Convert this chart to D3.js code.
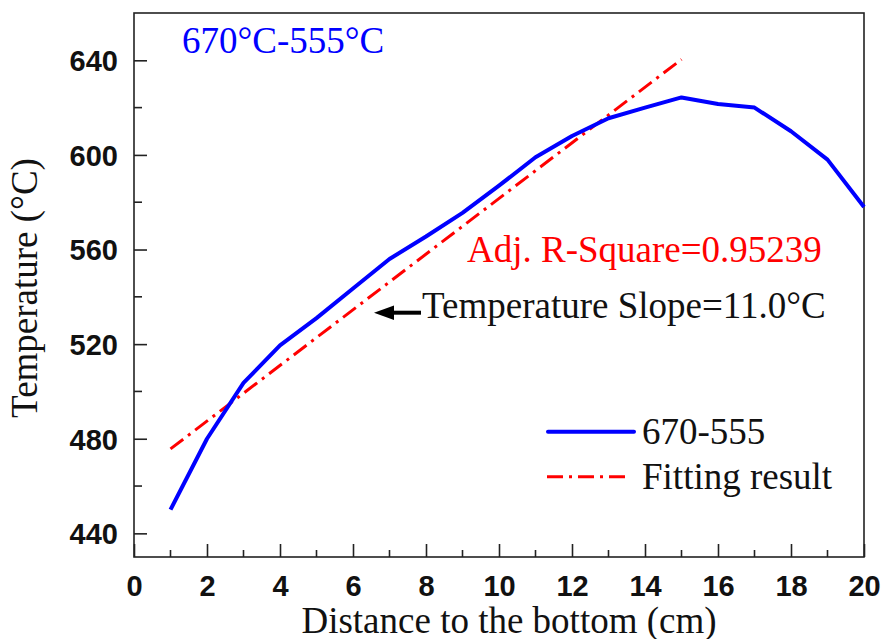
<!DOCTYPE html>
<html>
<head>
<meta charset="utf-8">
<script src="https://cdn.jsdelivr.net/npm/d3@7"></script>
<style>
  html, body { margin: 0; padding: 0; background: #fff; }
  svg { display: block; }
</style>
</head>
<body>
<svg id="chart" width="882" height="639"></svg>
<script>
// ---- data ----
const distance = [1, 2, 3, 4, 5, 6, 7, 8, 9, 10, 11, 12, 13, 14, 15, 16, 17, 18, 19, 20];
const temperature = [450, 480, 503.6, 519.5, 531, 543.5, 556, 565.5, 575.5, 587, 599, 608, 615.5, 620, 624.3, 621.5, 620, 610, 598, 578];
const fitDistance = [1, 15];
const fitTemperature = [475.7, 640.4];
const xMajorTicks = [0, 2, 4, 6, 8, 10, 12, 14, 16, 18, 20];
const yMajorTicks = [440, 480, 520, 560, 600, 640];
const seriesNames = ["670-555", "Fitting result"];

// ---- layout ----
const W = 882, H = 639;
const m = { left: 134, right: 18, top: 13, bottom: 82 };
const svg = d3.select("#chart");
const x = d3.scaleLinear().domain([0, 20]).range([m.left, W - m.right]);
const y = d3.scaleLinear().domain([430, 660]).range([H - m.bottom, m.top]);

const serif = "'Liberation Serif', 'Times New Roman', serif";
const sans = "'Liberation Sans', Arial, sans-serif";
const serifSize = "37px";
const tickSize = "29px";

// frame
svg.append("rect")
  .attr("x", x(0)).attr("y", y(660))
  .attr("width", x(20) - x(0)).attr("height", y(430) - y(660))
  .attr("fill", "none").attr("stroke", "#222").attr("stroke-width", 1.6);

// x axis
const xMinor = d3.range(1, 20, 2);
const gx = svg.append("g").attr("transform", `translate(0,${y(430)})`);
gx.call(d3.axisBottom(x).tickValues(xMajorTicks).tickSize(-13).tickPadding(0).tickFormat(d3.format("d")));
gx.select(".domain").remove();
gx.selectAll(".tick line").attr("stroke", "#222").attr("stroke-width", 1.6);
gx.selectAll(".tick text")
  .attr("y", 38.5).attr("dy", 0).attr("fill", "#111")
  .style("font-family", sans).style("font-weight", "bold").style("font-size", tickSize);
gx.selectAll(".minor").data(xMinor).enter().append("line")
  .attr("x1", d => x(d)).attr("x2", d => x(d))
  .attr("y1", 0).attr("y2", -7)
  .attr("stroke", "#222").attr("stroke-width", 1.6);

// y axis
const yMinor = d3.range(460, 660, 40);
const gy = svg.append("g").attr("transform", `translate(${x(0)},0)`);
gy.call(d3.axisLeft(y).tickValues(yMajorTicks).tickSize(-13).tickPadding(0).tickFormat(d3.format("d")));
gy.select(".domain").remove();
gy.selectAll(".tick line").attr("stroke", "#222").attr("stroke-width", 1.6);
gy.selectAll(".tick text")
  .attr("x", -16).attr("dy", "0.36em").attr("fill", "#111")
  .style("font-family", sans).style("font-weight", "bold").style("font-size", tickSize);
gy.selectAll(".minor").data(yMinor).enter().append("line")
  .attr("y1", d => y(d)).attr("y2", d => y(d))
  .attr("x1", 0).attr("x2", 8)
  .attr("stroke", "#222").attr("stroke-width", 1.6);

// axis titles
svg.append("text")
  .attr("x", 509).attr("y", 632.5)
  .attr("text-anchor", "middle")
  .style("font-family", serif).style("font-size", serifSize).attr("fill", "#111")
  .text("Distance to the bottom (cm)");
svg.append("text")
  .attr("transform", "translate(37,288) rotate(-90)")
  .attr("text-anchor", "middle")
  .style("font-family", serif).style("font-size", serifSize).attr("fill", "#111")
  .text("Temperature (°C)");

// fit line
const fitData = fitDistance.map((d, i) => ({ x: d, y: fitTemperature[i] }));
const line = d3.line().x(d => x(d.x)).y(d => y(d.y));
svg.append("path")
  .datum(fitData)
  .attr("d", line)
  .attr("fill", "none").attr("stroke", "#ff0000").attr("stroke-width", 3)
  .attr("stroke-dasharray", "16,6,3,6");

// main line
const mainData = distance.map((d, i) => ({ x: d, y: temperature[i] }));
svg.append("path")
  .datum(mainData)
  .attr("d", line)
  .attr("fill", "none").attr("stroke", "#0000ff").attr("stroke-width", 4)
  .attr("stroke-linejoin", "round");

// annotations
svg.append("text")
  .attr("x", 182).attr("y", 53)
  .style("font-family", serif).style("font-size", serifSize).attr("fill", "#0000ff")
  .text("670°C-555°C");
svg.append("text")
  .attr("x", 467).attr("y", 262)
  .style("font-family", serif).style("font-size", serifSize).attr("fill", "#ff0000")
  .text("Adj. R-Square=0.95239");
svg.append("text")
  .attr("x", 422).attr("y", 318)
  .style("font-family", serif).style("font-size", serifSize).attr("fill", "#111")
  .text("Temperature Slope=11.0°C");

// arrow
svg.append("line")
  .attr("x1", 421).attr("x2", 390).attr("y1", 312.7).attr("y2", 312.7)
  .attr("stroke", "#000").attr("stroke-width", 4);
svg.append("path")
  .attr("d", "M374,312.7 L394,305.5 L394,319.9 Z")
  .attr("fill", "#000");

// legend
const legY = [431.7, 476.7];
svg.append("line")
  .attr("x1", 548).attr("x2", 634).attr("y1", legY[0]).attr("y2", legY[0])
  .attr("stroke", "#0000ff").attr("stroke-width", 4).attr("stroke-linecap", "round");
svg.append("line")
  .attr("x1", 547).attr("x2", 630).attr("y1", legY[1]).attr("y2", legY[1])
  .attr("stroke", "#ff0000").attr("stroke-width", 3)
  .attr("stroke-dasharray", "16,6,3,6");
svg.selectAll(".legtext").data(seriesNames).enter().append("text")
  .attr("x", 642).attr("y", (d, i) => legY[i] + 12)
  .style("font-family", serif).style("font-size", serifSize).attr("fill", "#111")
  .text(d => d);
</script>
</body>
</html>
